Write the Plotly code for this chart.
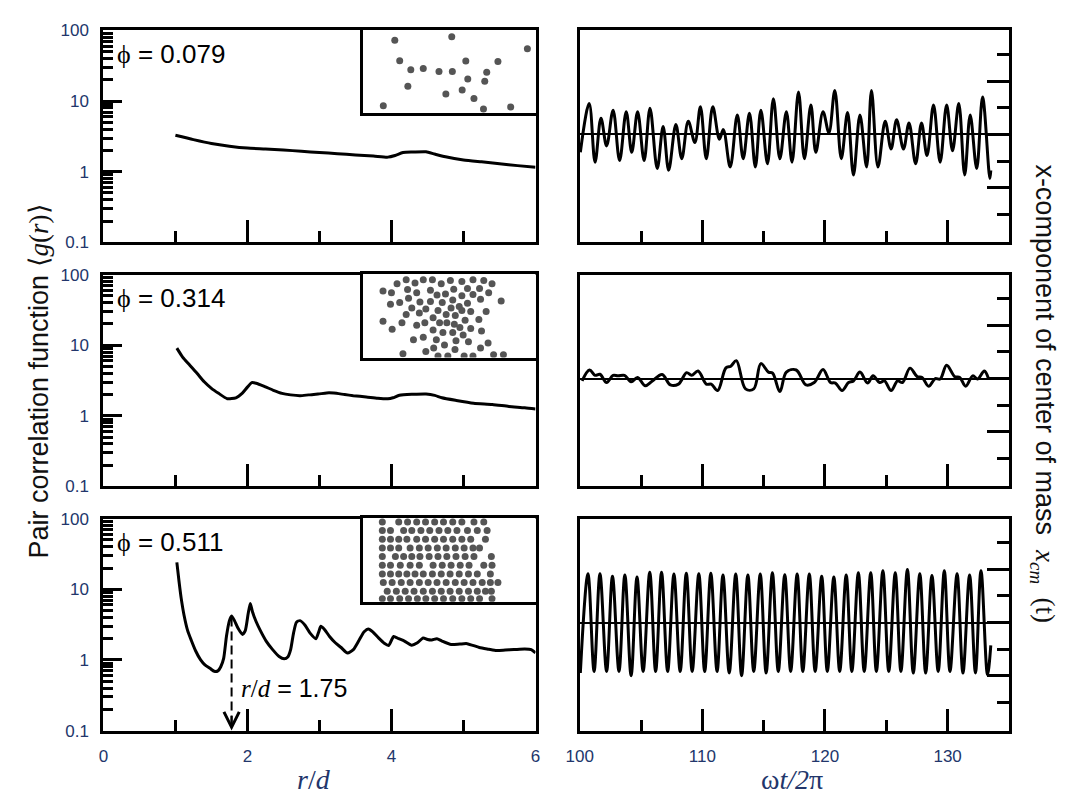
import math
import plotly.graph_objects as go

# ---------------- data ----------------
phi_labels = ["0.079", "0.314", "0.511"]

# pair correlation <g(r)> vs r/d
r_079 = [1.0, 1.25, 1.5, 1.75, 2.0, 2.25, 2.5, 2.75, 3.0, 3.25, 3.5, 3.75, 3.95, 4.05,
         4.16, 4.3, 4.48, 4.6, 4.75, 5.0, 5.25, 5.5, 5.75, 6.0]
g_079 = [3.28, 2.85, 2.51, 2.3, 2.16, 2.1, 2.03, 1.95, 1.87, 1.8, 1.73, 1.67, 1.61, 1.7,
         1.87, 1.9, 1.92, 1.78, 1.63, 1.47, 1.38, 1.3, 1.22, 1.16]

r_314 = [1.02, 1.1, 1.2, 1.3, 1.4, 1.5, 1.6, 1.72, 1.84, 1.93, 2.0, 2.06, 2.12, 2.24, 2.36,
         2.48, 2.6, 2.73, 2.85, 2.98, 3.1, 3.2, 3.35, 3.47, 3.65, 3.81, 3.95, 4.02, 4.11, 4.3,
         4.48, 4.6, 4.7, 4.9, 5.14, 5.4, 5.63, 5.85, 6.0]
g_314 = [9.1, 6.8, 5.2, 4.0, 3.03, 2.45, 2.08, 1.75, 1.8, 2.1, 2.55, 2.95, 2.9, 2.6, 2.3,
         2.08, 1.98, 1.93, 1.98, 2.03, 2.11, 2.1, 2.0, 1.93, 1.85, 1.77, 1.74, 1.8, 1.96, 2.02,
         2.04, 1.95, 1.8, 1.65, 1.51, 1.45, 1.36, 1.3, 1.25]

r_511 = [1.02, 1.05, 1.08, 1.12, 1.17, 1.22, 1.28, 1.35, 1.41, 1.48, 1.54, 1.59, 1.63, 1.67,
         1.71, 1.75, 1.78, 1.82, 1.87, 1.93, 1.97, 2.01, 2.04, 2.07, 2.12, 2.18, 2.26, 2.35,
         2.44, 2.51, 2.56, 2.6, 2.64, 2.68, 2.73, 2.8, 2.87, 2.95, 2.99, 3.02, 3.07, 3.14,
         3.22, 3.3, 3.39, 3.47, 3.55, 3.62, 3.68, 3.74, 3.82, 3.9, 3.96, 4.0, 4.03, 4.1, 4.18,
         4.28, 4.36, 4.44, 4.5, 4.56, 4.63, 4.7, 4.83, 4.95, 5.05, 5.22, 5.35, 5.46, 5.58,
         5.7, 5.85, 5.94, 6.0]
g_511 = [24.0, 13.0, 7.5, 4.3, 2.6, 1.9, 1.35, 1.0, 0.85, 0.76, 0.69, 0.7, 0.8, 1.05,
         2.2, 3.6, 4.2, 3.6, 2.8, 2.3, 2.6, 4.5, 6.3, 4.8, 3.5, 2.6, 1.85, 1.4,
         1.12, 1.04, 1.1, 1.4, 2.4, 3.4, 3.6, 3.1, 2.4, 2.0, 2.5, 3.0, 2.7, 2.15,
         1.75, 1.5, 1.25, 1.4, 1.9, 2.5, 2.75, 2.5, 2.05, 1.72, 1.6, 1.9, 2.15, 2.0, 1.85,
         1.62, 1.75, 2.05, 1.95, 1.92, 2.0, 1.85, 1.65, 1.68, 1.7, 1.5, 1.42, 1.36, 1.38,
         1.4, 1.43, 1.4, 1.26]

# x-component of the center of mass vs omega t / 2 pi
t_079 = [100.05, 100.77, 101.25, 101.73, 102.19, 102.72, 103.25, 103.79, 104.24, 104.72,
         105.25, 105.73, 106.32, 106.80, 107.25, 107.84, 108.32, 108.85, 109.39, 109.84,
         110.32, 110.85, 111.39, 111.71, 112.27, 112.85, 113.33, 113.84, 114.32, 114.77,
         115.31, 115.79, 116.32, 116.85, 117.31, 117.84, 118.32, 118.85, 119.25, 119.84,
         120.32, 120.80, 121.33, 121.84, 122.32, 122.85, 123.39, 123.79, 124.32, 124.91,
         125.39, 125.84, 126.40, 126.85, 127.39, 127.87, 128.32, 128.85, 129.39, 129.92,
         130.40, 130.91, 131.39, 131.84, 132.37, 132.85, 133.44, 133.52]
x_079 = [-0.67, 1.16, -1.04, 0.61, -0.43, 0.91, -0.98, 0.85, -0.67, 0.85,
         -0.98, 0.98, -1.28, 0.30, -1.34, 0.37, -0.91, 0.49, -0.30, 1.04,
         -0.91, 1.04, -0.18, 0.18, -1.22, 0.73, -0.91, 0.79, -1.22, 0.91,
         -1.10, 1.34, -0.91, 0.85, -1.04, 1.59, -0.91, 1.10, -0.67, 0.85,
         0.06, 1.65, -0.91, 0.82, -1.52, 0.73, -1.22, 1.65, -1.22, 0.49,
         -0.55, 0.55, -0.55, 0.43, -1.10, 0.43, -0.79, 1.10, -1.04, 1.10,
         -0.61, 1.16, -1.52, 0.73, -1.28, 1.40, -1.65, -1.35]

t_314 = [100.19, 100.80, 101.25, 101.65, 102.19, 102.72, 103.12, 103.65, 104.19, 104.72,
         105.33, 105.92, 106.72, 107.39, 108.05, 108.72, 109.12, 109.65, 110.32, 110.72,
         111.25, 111.92, 112.32, 112.77, 113.52, 114.19, 114.77, 115.39, 115.73, 116.32,
         116.85, 117.65, 118.45, 119.12, 119.84, 120.45, 120.85, 121.39, 121.92, 122.32,
         122.85, 123.47, 123.92, 124.45, 124.85, 125.39, 125.92, 126.32, 126.93, 127.52,
         127.92, 128.45, 128.99, 129.39, 129.92, 130.59, 130.99, 131.47, 132.05, 132.45,
         132.99, 133.33]
x_314 = [-0.09, 0.32, 0.12, 0.16, -0.15, 0.12, 0.10, 0.12, -0.12, 0.04,
         -0.27, -0.09, 0.15, -0.24, -0.21, 0.22, 0.12, 0.28, -0.21, -0.21,
         -0.45, 0.40, 0.46, 0.67, -0.39, -0.39, 0.56, 0.24, 0.20, -0.49,
         0.24, 0.32, -0.24, -0.15, 0.34, -0.15, -0.17, -0.45, -0.15, -0.09,
         0.24, -0.17, 0.10, -0.15, -0.09, -0.45, -0.09, -0.15, 0.39, 0.07,
         0.04, -0.29, 0.00, -0.02, 0.50, 0.07, 0.04, -0.29, 0.10, -0.02,
         0.28, 0.00]

t_511 = [100.05, 100.67, 101.17, 101.65, 102.19, 102.67, 103.20, 103.68, 104.19, 104.67,
         105.17, 105.71, 106.19, 106.67, 107.17, 107.68, 108.19, 108.69, 109.17, 109.71,
         110.19, 110.69, 111.20, 111.68, 112.19, 112.72, 113.20, 113.71, 114.19, 114.72,
         115.20, 115.71, 116.19, 116.72, 117.20, 117.73, 118.19, 118.72, 119.20, 119.73,
         120.19, 120.72, 121.20, 121.73, 122.19, 122.72, 123.20, 123.73, 124.19, 124.72,
         125.20, 125.73, 126.19, 126.72, 127.20, 127.73, 128.21, 128.72, 129.23, 129.73,
         130.19, 130.77, 131.25, 131.79, 132.27, 132.72, 133.25, 133.52]
x_511 = [-1.89, 1.83, -1.83, 1.83, -1.83, 1.74, -1.83, 1.79, -1.99, 1.71,
         -1.83, 1.89, -1.83, 1.89, -1.83, 1.82, -1.83, 1.85, -1.83, 1.83,
         -1.83, 1.85, -1.83, 1.79, -1.89, 1.82, -1.99, 1.79, -1.83, 1.82,
         -1.89, 1.87, -1.83, 1.80, -1.83, 1.82, -1.83, 1.82, -1.83, 1.74,
         -1.83, 1.71, -1.83, 1.79, -1.83, 1.87, -1.83, 1.87, -1.83, 1.95,
         -1.83, 1.87, -1.83, 1.99, -1.89, 1.83, -1.89, 1.77, -1.83, 1.95,
         -1.83, 1.83, -1.89, 1.79, -1.89, 1.95, -1.95, -0.85]

# inset particle snapshots (inset pixel units: u right, v down)
dots_079_u = [32.7, 90.7, 167.7, 37.7, 105, 137.7, 49, 61.7, 77.7, 91.3, 126.3, 107, 124.3,
              46, 101.3, 84.7, 113.3, 21, 123, 150.7]
dots_079_v = [11, 7.3, 19.7, 32, 32.3, 32.7, 41.3, 40, 43, 43, 43.7, 50.7, 53,
              58, 62, 66, 70.7, 78, 81.3, 79.3]

dots_314_u = [35, 44.3, 53.3, 61.7, 71, 80, 89.3, 101, 112.3, 123.3, 131.7,
              20.7, 29.3, 45.7, 55, 69, 75.7, 84.3, 92.7, 101, 106.7, 112.3, 119, 128.3,
              28.3, 37.7, 46.7, 58.3, 69, 81, 91.7, 98.3, 106.7, 120, 141,
              50, 57.7, 64.3, 76.7, 85, 90, 101, 110, 125.7, 44.3, 71.7,
              20.7, 40, 55, 63.3, 78.3, 85.7, 94.3, 104.3, 118.3, 93.3,
              30, 71.7, 81.7, 91.7, 99, 110, 121, 102.3,
              51.7, 61.7, 75, 83.3, 95, 107.7, 127.7, 120,
              41, 64.3, 72.3, 76.7, 86.7, 94, 103.3, 112.3, 133.3, 143.3]
dots_314_v = [10.3, 6.3, 9.7, 6.3, 6.3, 10.3, 7, 8, 6.3, 7, 10.3,
              17.7, 19.7, 16.3, 19.7, 17, 22, 21, 16, 22.7, 15.3, 21.3, 15.3, 19.7,
              31.3, 29.7, 25.3, 29, 28.7, 29.7, 27, 33.7, 30.3, 26.3, 28,
              35.3, 40.3, 36.3, 37.7, 42, 35.3, 37.7, 38.7, 38.7, 42, 45.3,
              48.7, 50.3, 53, 50.3, 50.3, 50.3, 43, 47.7, 47, 52,
              57, 57.7, 60.3, 60.3, 55.3, 56.3, 58.7, 63,
              67.7, 65.3, 67.7, 73, 68.7, 69.7, 71, 76.3,
              82, 79.7, 76.3, 84.3, 84.3, 77.7, 84.3, 84.3, 83, 83]

dots_511_u = [20, 36.7, 45.7, 55, 64, 73.3, 82.3, 91.7, 101, 113.3, 123.3,
              20, 28.3, 41.7, 50, 59.3, 68.3, 77.7, 86.7, 96, 106.7, 116.7, 126.7,
              20, 28.3, 36.7, 45, 55, 64, 73.3, 82.3, 91.7, 101, 110, 125,
              20, 28.3, 36.7, 48.3, 57.7, 66.7, 76, 85, 94.3, 103.3, 112.3, 119,
              20, 33.3, 41.7, 50, 58.3, 67.7, 76.7, 85.7, 95, 104.3, 113.3, 131,
              20, 28.3, 38.3, 48.3, 57.7, 71.7, 81, 90, 99.3, 108.3, 123.3, 131.7,
              20, 28.3, 36.7, 45, 53.3, 61.7, 71, 80, 89, 98.3, 107.7, 116.7, 130,
              21, 30, 39.3, 48.3, 57.7, 66.7, 75.7, 85, 94.3, 103.3, 112.3, 121.7, 130, 137.7,
              25, 34.3, 43.3, 52.3, 61.7, 71, 80, 89, 98.3, 107.7, 116.7, 125, 131,
              20, 28.3, 37.7, 46.7, 55.7, 64.3, 73.3, 82.3, 91.7, 101, 110, 119, 131.7]
dots_511_v = [4.3] * 11 + [13] * 12 + [22] * 12 + [31] * 12 + [39.7] * 12 + [48.7] * 12 + \
             [57.7] * 13 + [66.3] * 14 + [75.3] * 13 + [83] * 13

# ticks
r_ticks = [0, 2, 4, 6]
r_minor = [1, 3, 5]
g_ticks = [0.1, 1, 10, 100]
g_ticktext = ["0.1", "1", "10", "100"]
g_minor = [0.2, 0.3, 0.4, 0.5, 0.6, 0.7, 0.8, 0.9, 2, 3, 4, 5, 6, 7, 8, 9,
           20, 30, 40, 50, 60, 70, 80, 90]
t_ticks = [100, 110, 120, 130]
t_minor = [105, 115, 125]
x_ticks = [-2, 0, 2]
x_minor = [-3, -1, 1, 3]

peak_r = 1.78
peak_g = 4.0

# ---------------- layout helpers ----------------
W, H = 1066, 805
SANS = "Arial, Liberation Sans, sans-serif"
SERIF = "Times New Roman, Liberation Serif, serif"
TICKCOL = "#22366b"


def px_x(p):
    return p / W


def px_y(p):
    return 1 - p / H


rows_px = [(22, 239), (272, 489), (522, 739)]
inset_px = [(21, 107), (271, 357), (521, 607)]
LX = [px_x(91), px_x(531)]
RX = [px_x(576), px_x(1013)]
IX = [px_x(355), px_x(531)]

fig = go.Figure()

g_r = [(r_079, g_079), (r_314, g_314), (r_511, g_511)]
x_t = [(t_079, x_079), (t_314, x_314), (t_511, x_511)]
dots = [(dots_079_u, dots_079_v), (dots_314_u, dots_314_v), (dots_511_u, dots_511_v)]

base = dict(showline=True, linecolor="black", linewidth=3, mirror=True, showgrid=False,
            zeroline=False, ticks="inside", tickwidth=3, tickcolor="black",
            tickfont=dict(family=SANS, size=17, color=TICKCOL))

layout = {}
for i in range(3):
    top, bot = rows_px[i]
    ydom = [px_y(bot), px_y(top)]
    lx = 2 * i + 1
    rx = 2 * i + 2
    ix = 7 + i
    lname = "" if lx == 1 else str(lx)
    # left panel
    layout["xaxis" + lname] = dict(base, domain=LX, anchor="y" + lname, range=[0, 6],
                                   tickmode="array", tickvals=r_ticks, ticklen=22,
                                   showticklabels=(i == 2), ticklabelstandoff=8,
                                   minor=dict(tickmode="array", tickvals=r_minor, ticklen=11,
                                              tickwidth=3, ticks="inside", tickcolor="black"))
    layout["yaxis" + lname] = dict(base, domain=ydom, anchor="x" + lname, type="log",
                                   range=[-1, 2], tickmode="array", tickvals=g_ticks,
                                   ticktext=g_ticktext, ticklen=19, ticklabelstandoff=8,
                                   minor=dict(tickmode="array", tickvals=g_minor, ticklen=10,
                                              tickwidth=3, ticks="inside", tickcolor="black"))
    # right panel
    layout["xaxis" + str(rx)] = dict(base, domain=RX, anchor="y" + str(rx), range=[100, 135],
                                     tickmode="array", tickvals=t_ticks, ticklen=22,
                                     showticklabels=(i == 2), ticklabelstandoff=8,
                                     minor=dict(tickmode="array", tickvals=t_minor, ticklen=11,
                                                tickwidth=3, ticks="inside", tickcolor="black"))
    layout["yaxis" + str(rx)] = dict(base, domain=ydom, anchor="x" + str(rx), side="right",
                                     range=[-4.05, 3.9], tickmode="array", tickvals=x_ticks,
                                     ticklen=22, showticklabels=False,
                                     zeroline=True, zerolinecolor="black", zerolinewidth=2,
                                     minor=dict(tickmode="array", tickvals=x_minor, ticklen=12,
                                                tickwidth=3, ticks="inside", tickcolor="black"))
    # inset
    itop, ibot = inset_px[i]
    layout["xaxis" + str(ix)] = dict(domain=IX, anchor="y" + str(ix), range=[0, 176],
                                     showline=True, linecolor="black", linewidth=3, mirror=True,
                                     showgrid=False, zeroline=False, showticklabels=False,
                                     ticks="")
    layout["yaxis" + str(ix)] = dict(domain=[px_y(ibot), px_y(itop)], anchor="x" + str(ix),
                                     range=[86, 0], showline=True, linecolor="black",
                                     linewidth=3, mirror=True, showgrid=False, zeroline=False,
                                     showticklabels=False, ticks="")

    rr, gg = g_r[i]
    fig.add_trace(go.Scatter(x=rr, y=gg, mode="lines", xaxis="x" + lname, yaxis="y" + lname,
                             line=dict(color="black", width=3, shape="spline", smoothing=0.6),
                             showlegend=False, hoverinfo="skip"))
    tt, xx = x_t[i]
    fig.add_trace(go.Scatter(x=tt, y=xx, mode="lines", xaxis="x" + str(rx), yaxis="y" + str(rx),
                             line=dict(color="black", width=3, shape="spline", smoothing=1.0),
                             showlegend=False, hoverinfo="skip"))
    du, dv = dots[i]
    fig.add_trace(go.Scatter(x=du, y=dv, mode="markers", xaxis="x" + str(ix), yaxis="y" + str(ix),
                             marker=dict(size=7, color="#555555"), showlegend=False,
                             hoverinfo="skip"))

# dashed arrow at the first split peak
fig.add_trace(go.Scatter(x=[peak_r, peak_r], y=[peak_g, 0.12], mode="lines", xaxis="x5",
                         yaxis="y5", line=dict(color="black", width=2, dash="9px,5px"),
                         showlegend=False, hoverinfo="skip"))

annotations = []
for i in range(3):
    lname = "" if i == 0 else str(2 * i + 1)
    annotations.append(dict(
        xref="x" + lname, yref="y" + lname, x=0.16, y=math.log10(46), xanchor="left",
        yanchor="middle", showarrow=False,
        text="<span style='font-family:Liberation Serif'>ϕ</span> = " + phi_labels[i],
        font=dict(family=SANS, size=26, color="black")))

annotations.append(dict(xref="x5", yref="y5", x=peak_r, y=-1, ax=0, ay=-16, text="",
                        showarrow=True, arrowhead=5, arrowsize=1.5, arrowwidth=2,
                        arrowcolor="black"))
annotations.append(dict(xref="x5", yref="y5", x=1.88, y=math.log10(0.4), xanchor="left",
                        yanchor="middle", showarrow=False,
                        text="<span style='font-family:Liberation Serif'><i>r</i>/<i>d</i></span> = 1.75",
                        font=dict(family=SANS, size=25, color="black")))

# axis titles
annotations.append(dict(xref="paper", yref="paper", x=px_x(25), y=px_y(381), showarrow=False,
                        textangle=-90, xanchor="center", yanchor="middle",
                        text="Pair correlation function <span style='font-family:Liberation Serif'>⟨<i>g</i>(<i>r</i>)⟩</span>",
                        font=dict(family=SANS, size=27, color="#111111")))
annotations.append(dict(xref="paper", yref="paper", x=px_x(1048), y=px_y(394), showarrow=False,
                        textangle=90, xanchor="center", yanchor="middle",
                        text="x-component of center of mass  <span style='font-family:Liberation Serif'><i>x</i><sub><i>cm</i></sub>  (t)</span>",
                        font=dict(family=SANS, size=27, color="#111111")))
annotations.append(dict(xref="paper", yref="paper", x=px_x(305), y=px_y(789), showarrow=False,
                        xanchor="center", yanchor="middle", text="<i>r</i>/<i>d</i>",
                        font=dict(family=SERIF, size=28, color=TICKCOL)))
annotations.append(dict(xref="paper", yref="paper", x=px_x(792), y=px_y(789), showarrow=False,
                        xanchor="center", yanchor="middle", text="ω<i>t/2</i>π",
                        font=dict(family=SERIF, size=28, color=TICKCOL)))

fig.update_layout(width=W, height=H, margin=dict(l=0, r=0, t=0, b=0),
                  paper_bgcolor="white", plot_bgcolor="white", showlegend=False,
                  annotations=annotations, **layout)

fig.write_html("out.html")
